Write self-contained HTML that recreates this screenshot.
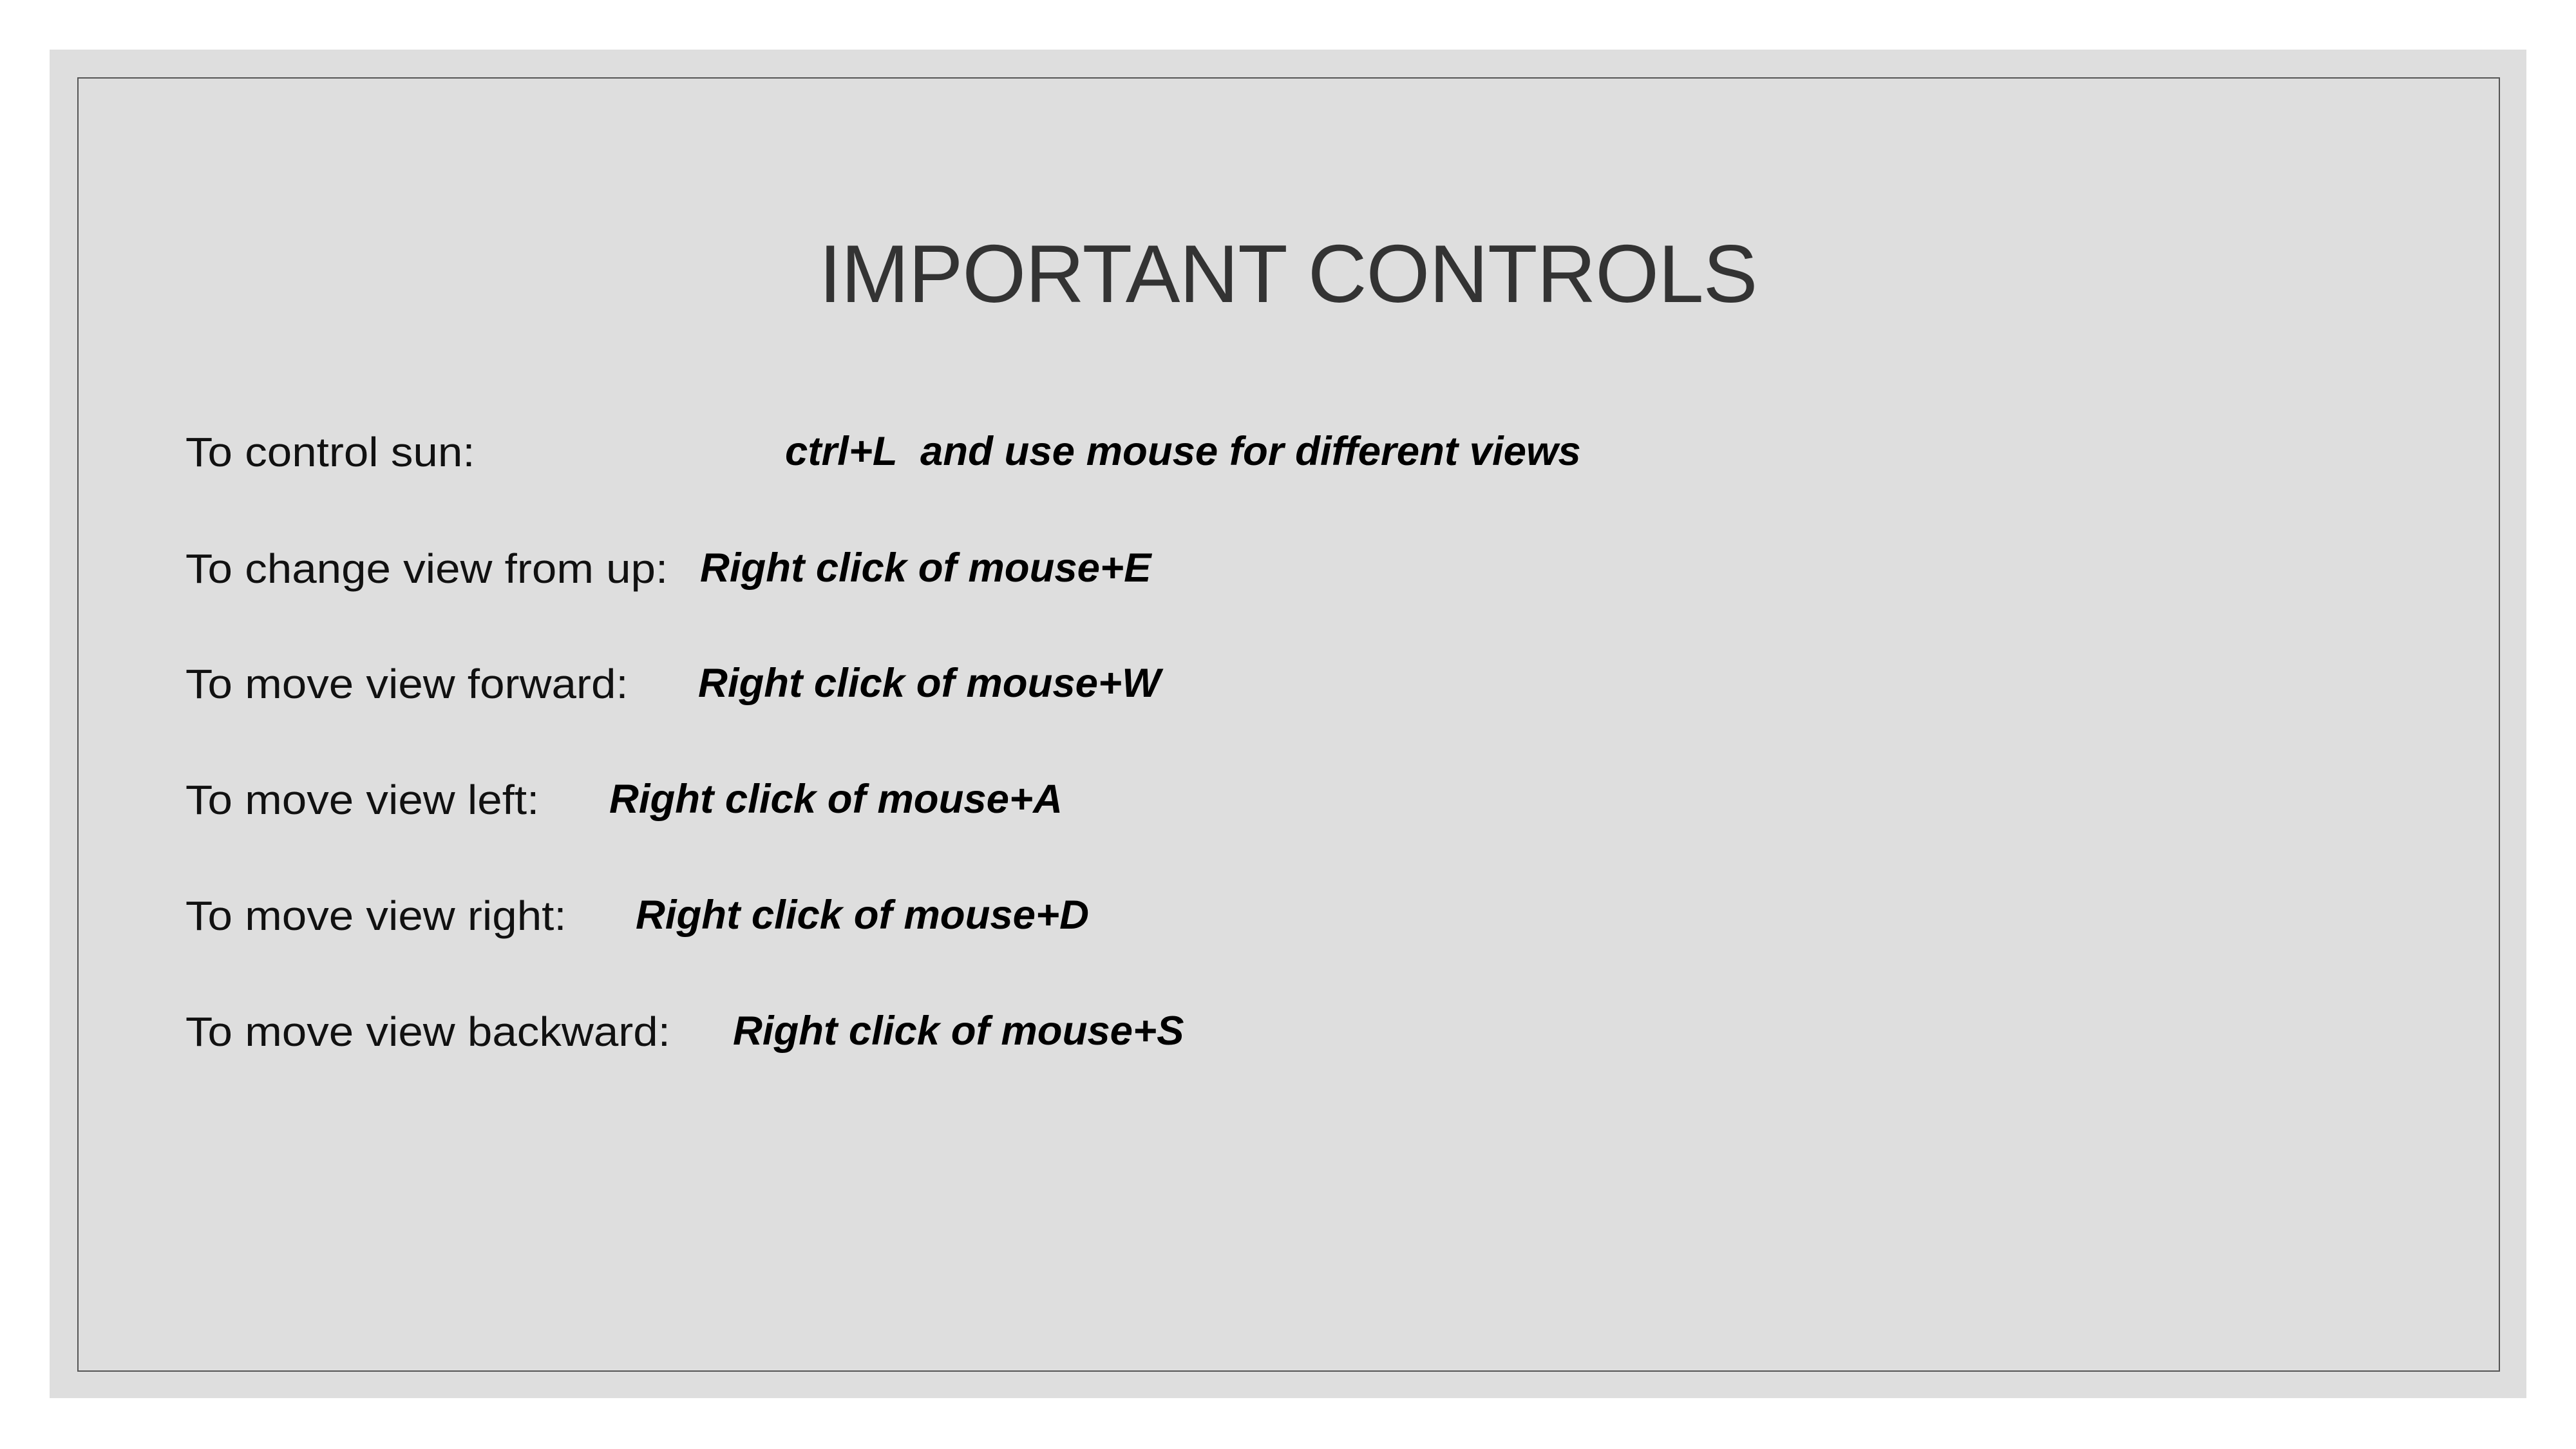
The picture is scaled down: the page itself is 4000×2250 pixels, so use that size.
<!DOCTYPE html>
<html><head><meta charset="utf-8"><style>
html,body{margin:0;padding:0;background:#fff;}
#c{position:relative;width:4000px;height:2250px;overflow:hidden;background:#fff;font-family:"Liberation Sans",sans-serif;}
#g{position:absolute;left:77px;top:77px;width:3846px;height:2094px;background:#dedede;}
#b{position:absolute;left:120px;top:120px;width:3758px;height:2006px;border:2px solid #555;}
.t{position:absolute;white-space:nowrap;line-height:1;}
#title{left:0;width:4000px;text-align:center;top:362px;font-size:127px;color:#333;letter-spacing:-1px;}
.l{font-size:64px;color:#111;transform:scaleX(1.08);transform-origin:0 0;}
.r{font-size:63.5px;color:#000;font-weight:bold;font-style:italic;}
</style></head><body><div id="c">
<div id="g"></div><div id="b"></div>
<div class="t" id="title">IMPORTANT CONTROLS</div>
<div class="t l" style="left:288px;top:670px">To control sun:</div>
<div class="t r" style="left:1219px;top:670px">ctrl+L&nbsp; and use mouse for different views</div>
<div class="t l" style="left:288px;top:851px">To change view from up:</div>
<div class="t r" style="left:1087px;top:851px">Right click of mouse+E</div>
<div class="t l" style="left:288px;top:1030px">To move view forward:</div>
<div class="t r" style="left:1084px;top:1030px">Right click of mouse+W</div>
<div class="t l" style="left:288px;top:1210px">To move view left:</div>
<div class="t r" style="left:946px;top:1210px">Right click of mouse+A</div>
<div class="t l" style="left:288px;top:1390px">To move view right:</div>
<div class="t r" style="left:987px;top:1390px">Right click of mouse+D</div>
<div class="t l" style="left:288px;top:1570px">To move view backward:</div>
<div class="t r" style="left:1138px;top:1570px">Right click of mouse+S</div>
</div></body></html>
